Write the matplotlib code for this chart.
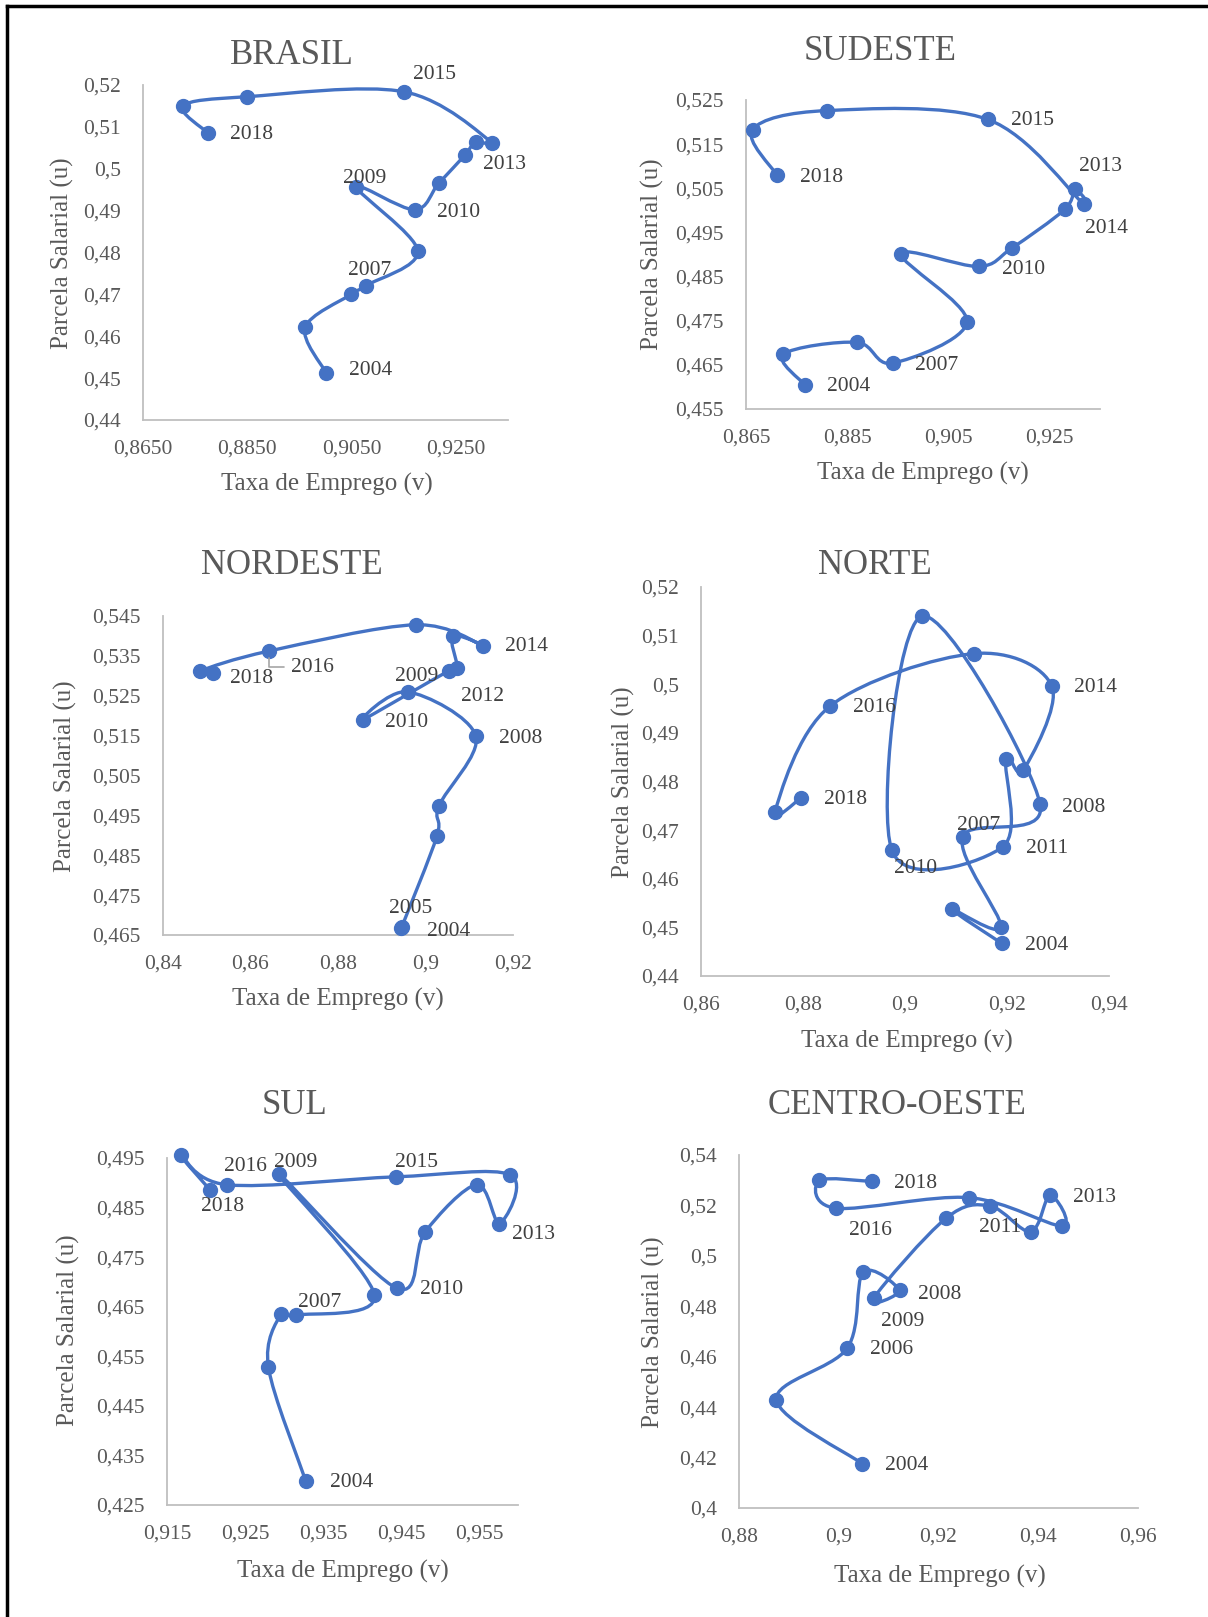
import numpy as np
import matplotlib
matplotlib.use('Agg')
import matplotlib.pyplot as plt
from matplotlib.path import Path
from matplotlib.patches import PathPatch

# Anos da serie
anos = list(range(2004, 2019))

# BRASIL: taxa de emprego (v) e parcela salarial (u)
br_v = [0.9001, 0.8961, 0.9049, 0.9078, 0.9177, 0.9059, 0.9171, 0.9217,
        0.9267, 0.9288, 0.9320, 0.9150, 0.8849, 0.8727, 0.8775]
br_u = [0.4513, 0.4621, 0.4700, 0.4721, 0.4804, 0.4957, 0.4902, 0.4965,
        0.5032, 0.5064, 0.5062, 0.5184, 0.5172, 0.5150, 0.5085]

# SUDESTE
se_v = [0.8767, 0.8724, 0.8869, 0.8940, 0.9087, 0.8957, 0.9110, 0.9175,
        0.9280, 0.9301, 0.9318, 0.9128, 0.8810, 0.8663, 0.8711]
se_u = [0.4604, 0.4674, 0.4701, 0.4654, 0.4748, 0.4901, 0.4873, 0.4914,
        0.5002, 0.5048, 0.5014, 0.5206, 0.5226, 0.5183, 0.5080]

# NORDESTE
ne_v = [0.8944, 0.8946, 0.9026, 0.9031, 0.9115, 0.8959, 0.8856, 0.9054,
        0.9073, 0.9062, 0.9131, 0.8978, 0.8642, 0.8485, 0.8515]
ne_u = [0.4667, 0.4671, 0.4898, 0.4974, 0.5149, 0.5260, 0.5189, 0.5313,
        0.5319, 0.5400, 0.5375, 0.5428, 0.5362, 0.5312, 0.5306]

# NORTE
no_v = [0.9190, 0.9093, 0.9188, 0.9113, 0.9265, 0.9033, 0.8974, 0.9192,
        0.9198, 0.9232, 0.9288, 0.9135, 0.8853, 0.8745, 0.8797]
no_u = [0.4467, 0.4537, 0.4501, 0.4686, 0.4753, 0.5140, 0.4659, 0.4666,
        0.4846, 0.4823, 0.4996, 0.5063, 0.4955, 0.4738, 0.4767]

# SUL
sul_v = [0.9328, 0.9280, 0.9296, 0.9315, 0.9416, 0.9293, 0.9445, 0.9481,
         0.9547, 0.9576, 0.9590, 0.9443, 0.9227, 0.9168, 0.9205]
sul_u = [0.4298, 0.4528, 0.4635, 0.4633, 0.4673, 0.4918, 0.4687, 0.4801,
         0.4896, 0.4817, 0.4916, 0.4912, 0.4896, 0.4957, 0.4886]

# CENTRO-OESTE
co_v = [0.9047, 0.8875, 0.9017, 0.9049, 0.9122, 0.9070, 0.9215, 0.9303,
        0.9385, 0.9423, 0.9447, 0.9261, 0.8995, 0.8961, 0.9067]
co_u = [0.4176, 0.4429, 0.4634, 0.4934, 0.4863, 0.4832, 0.5149, 0.5198,
        0.5096, 0.5242, 0.5119, 0.5231, 0.5189, 0.5299, 0.5295]

# Escalas e rotulos dos eixos
br_xt = [0.865, 0.885, 0.905, 0.925]
br_xl = ['0,8650', '0,8850', '0,9050', '0,9250']
br_yt = [0.44, 0.45, 0.46, 0.47, 0.48, 0.49, 0.50, 0.51, 0.52]
br_yl = ['0,44', '0,45', '0,46', '0,47', '0,48', '0,49', '0,5', '0,51', '0,52']

se_xt = [0.865, 0.885, 0.905, 0.925]
se_xl = ['0,865', '0,885', '0,905', '0,925']
se_yt = [0.455, 0.465, 0.475, 0.485, 0.495, 0.505, 0.515, 0.525]
se_yl = ['0,455', '0,465', '0,475', '0,485', '0,495', '0,505', '0,515', '0,525']

ne_xt = [0.84, 0.86, 0.88, 0.90, 0.92]
ne_xl = ['0,84', '0,86', '0,88', '0,9', '0,92']
ne_yt = [0.465, 0.475, 0.485, 0.495, 0.505, 0.515, 0.525, 0.535, 0.545]
ne_yl = ['0,465', '0,475', '0,485', '0,495', '0,505', '0,515', '0,525', '0,535', '0,545']

no_xt = [0.86, 0.88, 0.90, 0.92, 0.94]
no_xl = ['0,86', '0,88', '0,9', '0,92', '0,94']
no_yt = [0.44, 0.45, 0.46, 0.47, 0.48, 0.49, 0.50, 0.51, 0.52]
no_yl = ['0,44', '0,45', '0,46', '0,47', '0,48', '0,49', '0,5', '0,51', '0,52']

sul_xt = [0.915, 0.925, 0.935, 0.945, 0.955]
sul_xl = ['0,915', '0,925', '0,935', '0,945', '0,955']
sul_yt = [0.425, 0.435, 0.445, 0.455, 0.465, 0.475, 0.485, 0.495]
sul_yl = ['0,425', '0,435', '0,445', '0,455', '0,465', '0,475', '0,485', '0,495']

co_xt = [0.88, 0.90, 0.92, 0.94, 0.96]
co_xl = ['0,88', '0,9', '0,92', '0,94', '0,96']
co_yt = [0.40, 0.42, 0.44, 0.46, 0.48, 0.50, 0.52, 0.54]
co_yl = ['0,4', '0,42', '0,44', '0,46', '0,48', '0,5', '0,52', '0,54']

AZUL = '#4472C4'
CINZA = '#595959'
FONTE = 'Liberation Serif'
W, H = 1208, 1617

plt.rcParams['font.family'] = FONTE


def curva_suave(x, y):
    # linha suavizada (como no Excel) com curvas de Bezier
    p = np.column_stack([x, y])
    n = len(p)
    verts = [p[0]]
    codes = [Path.MOVETO]
    for i in range(n - 1):
        p0 = p[i - 1] if i > 0 else p[i]
        p3 = p[i + 2] if i + 2 < n else p[i + 1]
        c1 = p[i] + (p[i + 1] - p0) / 6
        c2 = p[i + 1] - (p3 - p[i]) / 6
        verts += [c1, c2, p[i + 1]]
        codes += [Path.CURVE4] * 3
    return Path(verts, codes)


def fx(x):
    return x / W


def fy(y):
    return 1 - y / H


fig = plt.figure(figsize=(W / 100, H / 100), dpi=100)

# moldura (so em cima e a esquerda)
fig.add_artist(plt.Line2D([fx(7), 1], [fy(6), fy(6)], color='black', lw=2.5))
fig.add_artist(plt.Line2D([fx(7), fx(7)], [fy(6), 0], color='black', lw=2.5))

paineis = [
    # titulo, v, u, xt, xl, yt, yl, xlim, ylim, caixa (esq, topo, dir, base),
    # titulo xy, xlabel xy, ylabel xy, rotulos {ano: (dx, dy)}
    ('BRASIL', br_v, br_u, br_xt, br_xl, br_yt, br_yl, (0.865, 0.935), (0.44, 0.52),
     (143, 85, 508, 420), (292, 55), (327, 484), (62, 253),
     {2004: (23, -2), 2007: (-18, -15), 2009: (-13, -8), 2010: (22, 3),
      2013: (7, 23), 2015: (9, -17), 2018: (22, 1)}),
    ('SUDESTE', se_v, se_u, se_xt, se_xl, se_yt, se_yl, (0.865, 0.935), (0.455, 0.525),
     (746, 100, 1100, 409), (880, 51), (923, 473), (652, 254),
     {2004: (22, 1), 2007: (22, 2), 2010: (23, 3), 2013: (4, -23),
      2014: (1, 24), 2015: (23, 1), 2018: (23, 2)}),
    ('NORDESTE', ne_v, ne_u, ne_xt, ne_xl, ne_yt, ne_yl, (0.84, 0.92), (0.465, 0.545),
     (163, 616, 513, 935), (292, 566), (338, 999), (65, 776),
     {2004: (26, 3), 2005: (-13, -18), 2008: (23, 2), 2009: (-13, -15),
      2010: (23, 2), 2012: (4, 28), 2014: (22, 1), 2016: (22, 16), 2018: (17, 5)}),
    ('NORTE', no_v, no_u, no_xt, no_xl, no_yt, no_yl, (0.86, 0.94), (0.44, 0.52),
     (701, 587, 1109, 976), (875, 566), (907, 1041), (623, 782),
     {2004: (23, 2), 2007: (-6, -11), 2008: (22, 3), 2010: (2, 18),
      2011: (23, 2), 2014: (22, 1), 2016: (23, 1), 2018: (23, 2)}),
    ('SUL', sul_v, sul_u, sul_xt, sul_xl, sul_yt, sul_yl, (0.915, 0.96), (0.425, 0.495),
     (167, 1158, 518, 1505), (295, 1105), (343, 1571), (68, 1330),
     {2004: (24, 1), 2007: (2, -13), 2009: (-5, -11), 2010: (23, 1),
      2013: (13, 11), 2015: (-1, -14), 2016: (-3, -18), 2018: (-9, 17)}),
    ('CENTRO-OESTE', co_v, co_u, co_xt, co_xl, co_yt, co_yl, (0.88, 0.96), (0.40, 0.54),
     (739, 1155, 1138, 1508), (897, 1105), (940, 1576), (653, 1332),
     {2004: (23, 2), 2006: (23, 1), 2008: (18, 4), 2009: (7, 23),
      2011: (-11, 22), 2013: (23, 3), 2016: (13, 22), 2018: (22, 2)}),
]

for (titulo, v, u, xt, xl, yt, yl, xlim, ylim, caixa,
     pos_t, pos_x, pos_y, rotulos) in paineis:
    e, t, d, b = caixa
    ax = fig.add_axes([fx(e), fy(b), (d - e) / W, (b - t) / H])
    ax.set_xlim(*xlim)
    ax.set_ylim(*ylim)

    ax.add_patch(PathPatch(curva_suave(v, u), facecolor='none', edgecolor=AZUL,
                           lw=2.4, capstyle='round', joinstyle='round', clip_on=False))
    ax.plot(v, u, 'o', color=AZUL, markersize=10, clip_on=False, zorder=3)

    for ano, (dx, dy) in rotulos.items():
        i = anos.index(ano)
        if titulo == 'NORDESTE' and ano == 2016:
            ax.annotate(str(ano), (v[i], u[i]), xytext=(dx, -dy), textcoords='offset pixels',
                        ha='left', va='center', fontsize=15.5, color='#404040',
                        arrowprops=dict(arrowstyle='-', color='#A6A6A6', lw=1.2,
                                        connectionstyle='angle,angleA=0,angleB=90,rad=0',
                                        shrinkA=3, shrinkB=5))
        else:
            ax.annotate(str(ano), (v[i], u[i]), xytext=(dx, -dy), textcoords='offset pixels',
                        ha='left', va='center', fontsize=15.5, color='#404040')

    ax.set_xticks(xt)
    ax.set_xticklabels(xl)
    ax.set_yticks(yt)
    ax.set_yticklabels(yl)
    ax.tick_params(length=0, labelsize=15.5, labelcolor=CINZA)
    ax.tick_params(axis='y', pad=16)
    ax.tick_params(axis='x', pad=14)
    for lado in ['top', 'right']:
        ax.spines[lado].set_visible(False)
    for lado in ['left', 'bottom']:
        ax.spines[lado].set_color('#BFBFBF')
        ax.spines[lado].set_linewidth(1.3)
    ax.patch.set_alpha(0)

    fig.text(fx(pos_t[0]), fy(pos_t[1]), titulo, ha='center', va='center',
             fontsize=25, color=CINZA)
    fig.text(fx(pos_x[0]), fy(pos_x[1]), 'Taxa de Emprego (v)', ha='center', va='center',
             fontsize=18, color=CINZA)
    fig.text(fx(pos_y[0]), fy(pos_y[1]), 'Parcela Salarial (u)', ha='center', va='center',
             fontsize=18, color=CINZA, rotation=90)

fig.savefig('out.png', dpi=100, facecolor='white')
